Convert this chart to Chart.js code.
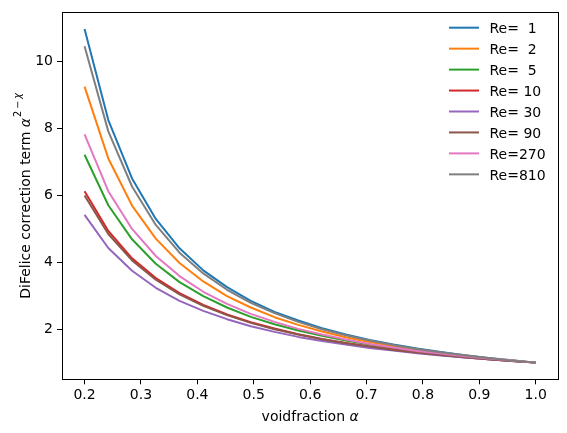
<!DOCTYPE html>
<html>
<head>
<meta charset="utf-8">
<script src="https://cdn.jsdelivr.net/npm/chart.js@4.4.0/dist/chart.umd.min.js"></script>
<style>
  html, body { margin: 0; padding: 0; background: #fff; }
  #wrap { width: 567px; height: 433px; }
</style>
</head>
<body>
<div id="wrap"><canvas id="chart" width="567" height="433"></canvas></div>
<script>
// voidfraction samples (20 points from 0.2 to 1.0)
const voidFraction = [0.2, 0.2421, 0.2842, 0.3263, 0.3684, 0.4105, 0.4526, 0.4947, 0.5368, 0.5789,
                      0.6211, 0.6632, 0.7053, 0.7474, 0.7895, 0.8316, 0.8737, 0.9158, 0.9579, 1.0];

const reLabels = ['Re=  1', 'Re=  2', 'Re=  5', 'Re= 10', 'Re= 30', 'Re= 90', 'Re=270', 'Re=810'];

// correction term
const re1   = [10.98, 8.26, 6.51, 5.30, 4.42, 3.76, 3.26, 2.85, 2.52, 2.26, 2.03, 1.84, 1.68, 1.54, 1.42, 1.32, 1.22, 1.14, 1.07, 1.00];
const re2   = [9.26, 7.11, 5.70, 4.71, 3.98, 3.43, 2.99, 2.65, 2.36, 2.13, 1.93, 1.76, 1.62, 1.50, 1.39, 1.29, 1.21, 1.13, 1.06, 1.00];
const re5   = [7.22, 5.71, 4.69, 3.96, 3.41, 2.99, 2.65, 2.37, 2.15, 1.96, 1.80, 1.66, 1.54, 1.43, 1.34, 1.25, 1.18, 1.11, 1.05, 1.00];
const re10  = [6.13, 4.94, 4.12, 3.53, 3.08, 2.73, 2.44, 2.21, 2.02, 1.85, 1.71, 1.59, 1.48, 1.39, 1.31, 1.23, 1.16, 1.10, 1.05, 1.00];
const re30  = [5.42, 4.43, 3.75, 3.24, 2.85, 2.55, 2.30, 2.09, 1.92, 1.77, 1.65, 1.54, 1.44, 1.36, 1.28, 1.21, 1.15, 1.10, 1.05, 1.00];
const re90  = [6.00, 4.85, 4.06, 3.48, 3.04, 2.70, 2.42, 2.19, 2.00, 1.84, 1.70, 1.58, 1.48, 1.38, 1.30, 1.23, 1.16, 1.10, 1.05, 1.00];
const re270 = [7.83, 6.13, 5.00, 4.19, 3.59, 3.12, 2.76, 2.46, 2.22, 2.01, 1.84, 1.69, 1.56, 1.45, 1.35, 1.27, 1.19, 1.12, 1.06, 1.00];
const re810 = [10.47, 7.92, 6.27, 5.12, 4.29, 3.67, 3.18, 2.79, 2.48, 2.22, 2.00, 1.82, 1.66, 1.53, 1.41, 1.31, 1.22, 1.14, 1.06, 1.00];

const xTicks = [0.2, 0.3, 0.4, 0.5, 0.6, 0.7, 0.8, 0.9, 1.0];
const yTicks = [2, 4, 6, 8, 10];

const seriesValues = [re1, re2, re5, re10, re30, re90, re270, re810];
const lineColors = ['#1f77b4', '#ff7f0e', '#2ca02c', '#d62728', '#9467bd', '#8c564b', '#e377c2', '#7f7f7f'];

const FONT = 'DejaVu Sans';

const datasets = seriesValues.map((vals, i) => ({
    label: reLabels[i],
    data: voidFraction.map((x, j) => ({ x: x, y: vals[j] })),
    borderColor: lineColors[i],
    borderWidth: 2,
    pointRadius: 0,
    tension: 0,
    fill: false,
    order: -i   // later series on top, like matplotlib
}));

// frame on all four sides
const framePlugin = {
    id: 'frame',
    afterDraw(chart) {
        const { ctx, chartArea: a } = chart;
        ctx.save();
        ctx.strokeStyle = '#000';
        ctx.lineWidth = 1;
        ctx.strokeRect(Math.round(a.left) + 0.5, Math.round(a.top) + 0.5,
                       Math.round(a.right - a.left), Math.round(a.bottom - a.top));
        ctx.restore();
    }
};

// axis titles with the math bits
const labelPlugin = {
    id: 'axisLabels',
    afterDraw(chart) {
        const { ctx, chartArea: a } = chart;
        ctx.save();
        ctx.fillStyle = '#000';
        ctx.textBaseline = 'alphabetic';
        ctx.textAlign = 'left';

        // x label
        const norm = '14px "' + FONT + '"';
        const ital = 'oblique 14px "' + FONT + '"';
        ctx.font = norm;
        const t1 = 'voidfraction ';
        const w1 = ctx.measureText(t1).width;
        ctx.font = ital;
        const w2 = ctx.measureText('α').width;
        let x0 = (a.left + a.right) / 2 - (w1 + w2) / 2;
        ctx.font = norm;
        ctx.fillText(t1, x0, 421);
        ctx.font = ital;
        ctx.fillText('α', x0 + w1, 421);

        // y label, rotated
        const sup = '9.7px "' + FONT + '"';
        const supI = 'oblique 9.7px "' + FONT + '"';
        const parts = [
            { t: 'DiFelice correction term ', f: norm, dy: 0 },
            { t: 'α', f: ital, dy: 0 },
            { t: '2', f: sup, dy: -8.5, pre: 1 },
            { t: '−', f: sup, dy: -8.5, pre: 2, post: 2 },
            { t: 'χ', f: supI, dy: -8.5 }
        ];
        let total = 0;
        parts.forEach(p => {
            ctx.font = p.f;
            p.w = ctx.measureText(p.t).width;
            total += (p.pre || 0) + p.w + (p.post || 0);
        });
        ctx.translate(29.5, (a.top + a.bottom) / 2);
        ctx.rotate(-Math.PI / 2);
        let cx = -total / 2;
        parts.forEach(p => {
            cx += p.pre || 0;
            ctx.font = p.f;
            ctx.fillText(p.t, cx, p.dy);
            cx += p.w + (p.post || 0);
        });
        ctx.restore();
    }
};

// legend in the upper right, no frame
const legendPlugin = {
    id: 'innerLegend',
    afterDraw(chart) {
        const { ctx } = chart;
        ctx.save();
        ctx.font = '14px "' + FONT + '"';
        ctx.textBaseline = 'alphabetic';
        ctx.textAlign = 'left';
        chart.data.datasets.forEach((ds, i) => {
            const y = 27.7 + i * 20.95;
            ctx.strokeStyle = ds.borderColor;
            ctx.lineWidth = 2;
            ctx.beginPath();
            ctx.moveTo(449, y);
            ctx.lineTo(479, y);
            ctx.stroke();
            ctx.fillStyle = '#000';
            ctx.fillText(ds.label, 489.5, y + 5.5);
        });
        ctx.restore();
    }
};

new Chart(document.getElementById('chart'), {
    type: 'line',
    data: { datasets: datasets },
    options: {
        responsive: false,
        animation: false,
        layout: { padding: { left: 0, right: 8.7, top: 10.7, bottom: 0 } },
        plugins: { legend: { display: false }, tooltip: { enabled: false } },
        elements: { line: { borderJoinStyle: 'round' } },
        scales: {
            x: {
                type: 'linear',
                min: 0.16,
                max: 1.04,
                afterBuildTicks: s => { s.ticks = xTicks.map(v => ({ value: v })); },
                afterFit: s => { s.height = 53.7; },
                ticks: {
                    callback: v => v.toFixed(1),
                    font: { family: FONT, size: 14 },
                    color: '#000',
                    padding: 3,
                    maxRotation: 0,
                    autoSkip: false
                },
                grid: { drawOnChartArea: false, drawTicks: true, tickLength: 5, tickColor: '#000' },
                border: { display: true, color: '#000', width: 1 }
            },
            y: {
                min: 0.501,
                max: 11.48,
                afterBuildTicks: s => { s.ticks = yTicks.map(v => ({ value: v })); },
                afterFit: s => { s.width = 62; },
                ticks: {
                    callback: v => String(v),
                    font: { family: FONT, size: 14 },
                    color: '#000',
                    padding: 4,
                    autoSkip: false
                },
                grid: { drawOnChartArea: false, drawTicks: true, tickLength: 5, tickColor: '#000' },
                border: { display: true, color: '#000', width: 1 }
            }
        }
    },
    plugins: [framePlugin, labelPlugin, legendPlugin]
});
</script>
</body>
</html>
